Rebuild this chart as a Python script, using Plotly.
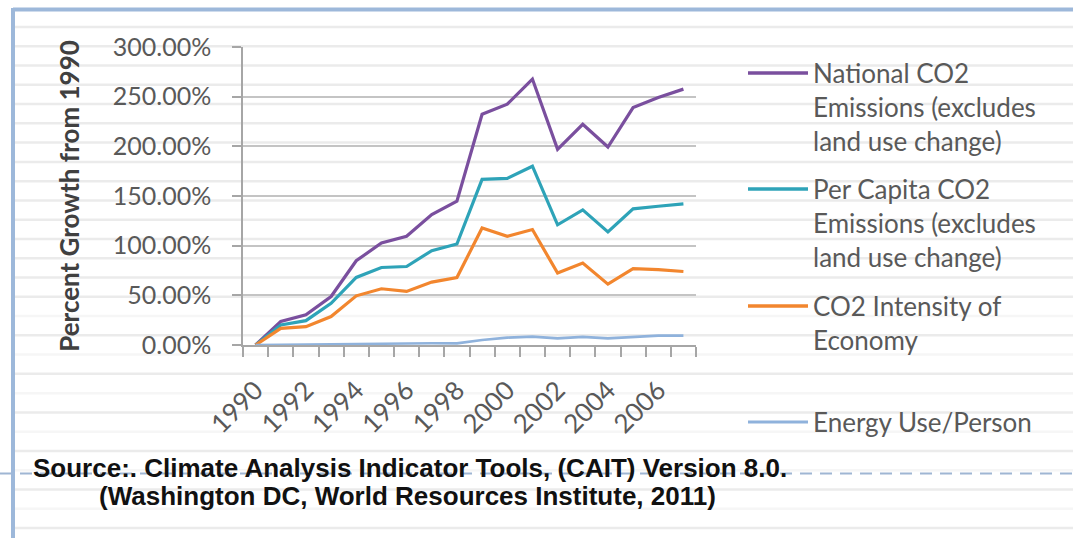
import plotly.graph_objects as go

# ---- data: percent growth relative to 1990 ----
years = list(range(1990, 2008))
national_co2 = [0, 23.6, 30.3, 48.8, 84.8, 102.7, 109.4, 131.3, 144.8, 232.3,
                242.4, 267.7, 197.0, 222.2, 199.3, 239.0, 249.2, 257.6]
per_capita_co2 = [0, 20.2, 24.5, 42.0, 68.0, 78.0, 79.0, 95.0, 101.7, 166.7,
                  167.7, 180.0, 121.0, 136.0, 113.8, 137.0, 139.7, 142.0]
co2_intensity = [0, 16.8, 18.5, 28.6, 49.5, 56.6, 53.9, 63.3, 68.0, 117.8,
                 109.4, 116.2, 72.4, 82.5, 61.3, 76.8, 75.8, 74.0]
energy_per_person = [0, 0.3, 0.5, 0.5, 0.8, 1.2, 1.5, 1.8, 1.6, 5.0,
                     7.4, 8.4, 6.7, 8.2, 6.7, 8.2, 9.4, 9.4]

series_names = [
    ["National CO2", "Emissions (excludes", "land use change)"],
    ["Per Capita CO2", "Emissions (excludes", "land use change)"],
    ["CO2 Intensity of", "Economy"],
    ["Energy Use/Person"],
]
series_values = [national_co2, per_capita_co2, co2_intensity, energy_per_person]
series_colors = ["#7a4f9e", "#2ea3b8", "#f2862e", "#8fb2dc"]
series_widths = [3.2, 3.2, 3.2, 2.6]

x_tick_years = list(range(1990, 2007, 2))
x_tick_labels = [str(y) for y in x_tick_years]
y_ticks = [0, 50, 100, 150, 200, 250, 300]
y_tick_labels = ["%.2f%%" % v for v in y_ticks]

source_lines = [
    "Source:. Climate Analysis Indicator Tools, (CAIT) Version 8.0.",
    "(Washington DC, World Resources Institute, 2011)",
]

# ---- page geometry ----
W, H = 1073, 538
L, R, T, B = 243, 377, 47, 193
PW, PH = W - L - R, H - T - B


def px_x(px):
    return (px - L) / PW


def px_y(py):
    return (H - B - py) / PH


FONT = "Lato, 'Open Sans', sans-serif"
TEXT_GREY = "#595959"
SOURCE_FONT = "'Liberation Sans Narrow', 'Arial Narrow', 'Liberation Sans', sans-serif"

fig = go.Figure()
for name, vals, col, lw in zip(series_names, series_values, series_colors, series_widths):
    fig.add_trace(go.Scatter(
        x=years, y=vals, mode="lines", name=" ".join(name),
        line=dict(color=col, width=lw), showlegend=False,
    ))

shapes = []
annotations = []

# ruled background lines across the page
k = 0
while True:
    yy = 27 + 19.27 * k
    if yy > H:
        break
    faint = (k >= 14 and k % 2 == 1)
    shapes.append(dict(
        type="line", xref="paper", yref="paper", layer="below",
        x0=px_x(15), x1=px_x(W), y0=px_y(yy), y1=px_y(yy),
        line=dict(color="#f6f6f6" if faint else "#ebebeb", width=2.5),
    ))
    k += 1

# page border (top and left)
shapes.append(dict(type="line", xref="paper", yref="paper", layer="above",
                   x0=px_x(13), x1=px_x(W), y0=px_y(9.5), y1=px_y(9.5),
                   line=dict(color="#9db8da", width=4)))
shapes.append(dict(type="line", xref="paper", yref="paper", layer="above",
                   x0=px_x(13), x1=px_x(13), y0=px_y(8), y1=px_y(H),
                   line=dict(color="#9db8da", width=4)))

# dashed separator behind the source note
shapes.append(dict(type="line", xref="paper", yref="paper", layer="below",
                   x0=px_x(0), x1=px_x(W), y0=px_y(473.5), y1=px_y(473.5),
                   line=dict(color="#9fb6d3", width=2, dash="12px,8px")))

# legend drawn at the right of the chart
legend_tops = [73, 189, 306, 422]
for lines, col, lw, ytop in zip(series_names, series_colors, series_widths, legend_tops):
    shapes.append(dict(type="line", xref="paper", yref="paper", layer="above",
                       x0=px_x(748), x1=px_x(808), y0=px_y(ytop), y1=px_y(ytop),
                       line=dict(color=col, width=lw + 0.4)))
    for i, txt in enumerate(lines):
        annotations.append(dict(
            xref="paper", yref="paper", x=px_x(811), y=px_y(ytop + 34 * i),
            xanchor="left", yanchor="middle", text=txt, showarrow=False,
            font=dict(family=FONT, size=26, color=TEXT_GREY),
        ))

# source note
for txt, x0, y0 in zip(source_lines, [31, 97], [468, 496]):
    annotations.append(dict(
        xref="paper", yref="paper", x=px_x(x0), y=px_y(y0), xanchor="left",
        yanchor="middle", text="<b>%s</b>" % txt, showarrow=False,
        font=dict(family=SOURCE_FONT, size=26, color="#111111"),
    ))

fig.update_layout(
    width=W, height=H,
    margin=dict(l=L, r=R, t=T, b=B, autoexpand=False),
    paper_bgcolor="white", plot_bgcolor="rgba(0,0,0,0)",
    shapes=shapes, annotations=annotations, showlegend=False,
    font=dict(family=FONT, color=TEXT_GREY),
)

fig.update_xaxes(
    range=[1989.5, 2007.5], tickmode="array", tickvals=x_tick_years,
    ticktext=x_tick_labels, tickangle=-45, ticks="", ticklabelstandoff=18,
    tickfont=dict(family=FONT, size=26, color=TEXT_GREY),
    showgrid=False, zeroline=False,
    showline=True, linecolor="#a6a6a6", linewidth=1.5,
    minor=dict(tickmode="array", tickvals=[1989.5 + i for i in range(19)],
               ticks="outside", ticklen=10, tickcolor="#a6a6a6", tickwidth=1.5,
               showgrid=False),
)

fig.update_yaxes(
    range=[0, 300], tickmode="array", tickvals=y_ticks, ticktext=y_tick_labels,
    tickfont=dict(family=FONT, size=25, color=TEXT_GREY),
    ticks="outside", ticklen=9, tickcolor="#a6a6a6", tickwidth=1.5,
    ticklabelstandoff=16,
    showgrid=True, gridcolor="#c4c4c4", gridwidth=1.6, zeroline=False,
    showline=True, linecolor="#a6a6a6", linewidth=1.5,
    title=dict(text="<b>Percent Growth from 1990</b>", standoff=26,
               font=dict(family=FONT, size=26, color="#404040")),
)

fig.write_html("out.html")
